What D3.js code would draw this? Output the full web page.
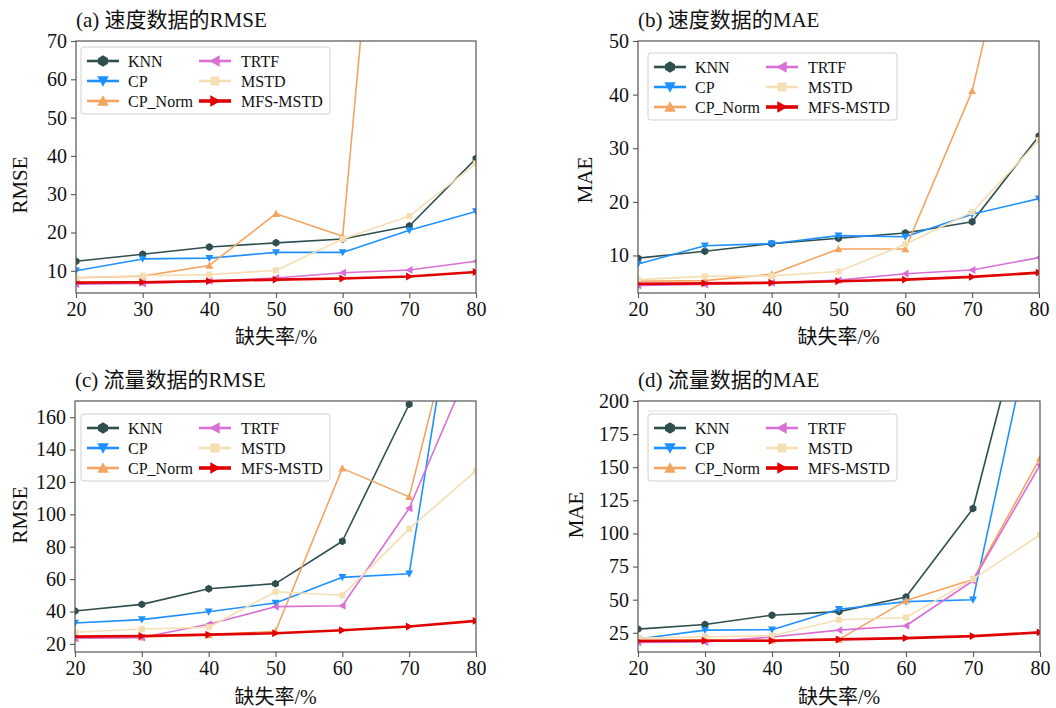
<!DOCTYPE html>
<html><head><meta charset="utf-8">
<script src="https://cdn.jsdelivr.net/npm/d3@7"></script>
<style>
body{margin:0;background:#fff}
text{font-family:"Liberation Serif","Times New Roman","Noto Sans CJK SC",serif;fill:#111}
</style>
</head><body>
<svg id="chart" width="1056" height="708"></svg>
<script>
// ---------- data ----------
const missingRates = [20, 30, 40, 50, 60, 70, 80];
const methods = ["KNN", "CP", "CP_Norm", "TRTF", "MSTD", "MFS-MSTD"];
// rows follow `methods` order
const speedRMSE = [
  [12.5, 14.3, 16.2, 17.3, 18.3, 21.7, 39.3],
  [10.0, 13.1, 13.3, 14.8, 14.8, 20.6, 25.5],
  [8.2, 8.6, 11.4, 24.9, 19.0, 210, 260],
  [6.5, 6.7, 7.3, 8.1, 9.5, 10.2, 12.5],
  [8.2, 8.7, 9.0, 10.1, 18.3, 24.3, 38.0],
  [6.9, 7.0, 7.3, 7.7, 8.0, 8.5, 9.7]
];
const speedMAE = [
  [9.5, 10.8, 12.2, 13.2, 14.2, 16.3, 32.3],
  [8.4, 11.8, 12.2, 13.7, 13.5, 17.7, 20.6],
  [5.2, 5.3, 6.5, 11.2, 11.2, 40.7, 94],
  [4.4, 4.6, 4.9, 5.4, 6.6, 7.3, 9.6],
  [5.5, 6.1, 6.2, 7.0, 12.1, 18.1, 31.5],
  [4.7, 4.8, 4.9, 5.2, 5.5, 6.0, 6.8]
];
const flowRMSE = [
  [40.3, 44.4, 54.1, 57.2, 83.4, 168, 300],
  [32.9, 35.0, 39.9, 45.3, 61.1, 63.3, 323],
  [23.5, 24.1, 25.5, 27.8, 128.4, 110.8, 275],
  [23.5, 23.9, 32.1, 43.0, 43.6, 103.8, 200],
  [27.2, 29.2, 30.3, 52.2, 50.0, 91.0, 127.0],
  [24.5, 24.9, 25.7, 26.6, 28.4, 30.7, 34.2]
];
const flowMAE = [
  [27.8, 31.3, 38.3, 41.0, 52.0, 118.8, 315],
  [20.3, 27.0, 27.3, 42.8, 48.5, 50.0, 285],
  [19.3, 19.8, 19.3, 20.0, 49.3, 65.3, 156.8],
  [17.8, 18.0, 21.8, 27.0, 30.3, 64.3, 151.8],
  [21.0, 21.8, 22.8, 34.8, 36.5, 65.5, 99.0],
  [18.8, 19.0, 19.0, 20.0, 21.0, 22.5, 25.3]
];
const panelTitles = ["(a) 速度数据的RMSE", "(b) 速度数据的MAE", "(c) 流量数据的RMSE", "(d) 流量数据的MAE"];
const yLabels = ["RMSE", "MAE", "RMSE", "MAE"];
const xLabel = "缺失率/%";
const yDomains = [[4.2, 70], [3, 50], [15, 170], [10.5, 200]];
const yTickValues = [
  [10, 20, 30, 40, 50, 60, 70],
  [10, 20, 30, 40, 50],
  [20, 40, 60, 80, 100, 120, 140, 160],
  [25, 50, 75, 100, 125, 150, 175, 200]
];

// ---------- styles / layout ----------
const colors = ["#2f4f4f", "#1e90ff", "#f4a460", "#da70d6", "#f5deb3", "#e00000"];
const markerTypes = ["hex", "down", "up", "left", "square", "right"];
const lineWidths = [1.6, 1.6, 1.6, 1.6, 1.6, 2.6];
const layout = [
  {x0: 76, x1: 476, y0: 41, y1: 293, ylx: 20, yly: 185, xly: 337, legX: 81, legY: 47},
  {x0: 638, x1: 1039, y0: 41, y1: 293, ylx: 585, yly: 180, xly: 337, legX: 648, legY: 53},
  {x0: 75, x1: 476, y0: 401, y1: 652, ylx: 20, yly: 515, xly: 697, legX: 81, legY: 414},
  {x0: 638, x1: 1040, y0: 401, y1: 652, ylx: 576, yly: 515, xly: 697, legX: 648, legY: 414}
];
const datasets = [speedRMSE, speedMAE, flowRMSE, flowMAE];

function markerPath(t, r) {
  let pts;
  if (t === "hex") {
    pts = d3.range(6).map(k => {
      const a = (-90 + 60 * k) * Math.PI / 180;
      return [r * 1.1 * Math.cos(a), r * 1.1 * Math.sin(a)];
    });
  } else if (t === "up") pts = [[0, -r * 1.1], [-r * 1.1, r * 0.9], [r * 1.1, r * 0.9]];
  else if (t === "down") pts = [[0, r * 1.1], [-r * 1.1, -r * 0.9], [r * 1.1, -r * 0.9]];
  else if (t === "left") pts = [[-r * 1.1, 0], [r * 0.9, -r * 1.1], [r * 0.9, r * 1.1]];
  else if (t === "right") pts = [[r * 1.1, 0], [-r * 0.9, -r * 1.1], [-r * 0.9, r * 1.1]];
  else pts = [[-r * 0.85, -r * 0.85], [r * 0.85, -r * 0.85], [r * 0.85, r * 0.85], [-r * 0.85, r * 0.85]];
  return "M" + pts.map(p => p.join(",")).join("L") + "Z";
}

const svg = d3.select("#chart");
const spine = "#555";

layout.forEach((L, pi) => {
  const data = datasets[pi];
  const x = d3.scaleLinear().domain([20, 80]).range([L.x0, L.x1]);
  const y = d3.scaleLinear().domain(yDomains[pi]).range([L.y1, L.y0]);
  const g = svg.append("g");

  const clipId = "clip" + pi;
  svg.append("clipPath").attr("id", clipId).append("rect")
    .attr("x", L.x0).attr("y", L.y0).attr("width", L.x1 - L.x0).attr("height", L.y1 - L.y0);

  // series
  const plot = g.append("g").attr("clip-path", `url(#${clipId})`);
  const line = d3.line().x((d, i) => x(missingRates[i])).y(d => y(d));
  data.forEach((vals, si) => {
    plot.append("path").datum(vals).attr("d", line)
      .attr("fill", "none").attr("stroke", colors[si]).attr("stroke-width", lineWidths[si])
      .attr("stroke-linejoin", "round");
    plot.selectAll(null).data(vals).enter().append("path")
      .attr("transform", (d, i) => `translate(${x(missingRates[i])},${y(d)})`)
      .attr("d", markerPath(markerTypes[si], 3.6))
      .attr("fill", colors[si]);
  });

  // axes
  const xa = g.append("g").attr("transform", `translate(0,${L.y1})`)
    .call(d3.axisBottom(x).tickValues(missingRates).tickSize(5).tickPadding(4).tickFormat(d3.format("d")));
  const ya = g.append("g").attr("transform", `translate(${L.x0},0)`)
    .call(d3.axisLeft(y).tickValues(yTickValues[pi]).tickSize(5).tickPadding(4).tickFormat(d3.format("d")));
  [xa, ya].forEach(a => {
    a.select(".domain").remove();
    a.selectAll("line").attr("stroke", spine).attr("stroke-width", 1.1);
    a.selectAll("text").style("font-size", "20px").attr("fill", "#111");
  });
  g.append("rect").attr("x", L.x0).attr("y", L.y0).attr("width", L.x1 - L.x0).attr("height", L.y1 - L.y0)
    .attr("fill", "none").attr("stroke", spine).attr("stroke-width", 1.2);

  // title and labels
  g.append("text").attr("x", L.x0).attr("y", L.y0 - 14).style("font-size", "21px").text(panelTitles[pi]);
  g.append("text").attr("x", (L.x0 + L.x1) / 2).attr("y", L.xly).attr("text-anchor", "middle")
    .attr("dominant-baseline", "central").style("font-size", "20px").text(xLabel);
  g.append("text").attr("transform", `translate(${L.ylx},${L.yly}) rotate(-90)`).attr("text-anchor", "middle")
    .attr("dominant-baseline", "central").style("font-size", "21px").text(yLabels[pi]);

  // faint artifact line in panel (d)
  if (pi === 3) {
    g.append("line").attr("x1", L.legX).attr("x2", L.legX + 242).attr("y1", L.legY - 3).attr("y2", L.legY - 3)
      .attr("stroke", "#e2e2e2").attr("stroke-width", 1);
  }

  // legend
  const leg = g.append("g").attr("transform", `translate(${L.legX},${L.legY})`);
  leg.append("rect").attr("width", 249).attr("height", 67).attr("rx", 3)
    .attr("fill", "#fff").attr("fill-opacity", 0.85).attr("stroke", "#d0d0d0").attr("stroke-width", 1);
  methods.forEach((m, si) => {
    const col = Math.floor(si / 3), row = si % 3;
    const lx = col === 0 ? 6 : 118;
    const ly = 14 + row * 20;
    leg.append("line").attr("x1", lx).attr("x2", lx + 32).attr("y1", ly).attr("y2", ly)
      .attr("stroke", colors[si]).attr("stroke-width", si === 5 ? 3.6 : 2.6);
    leg.append("path").attr("transform", `translate(${lx + 16},${ly})`)
      .attr("d", markerPath(markerTypes[si], 5.2)).attr("fill", colors[si]);
    leg.append("text").attr("x", lx + (col === 0 ? 41 : 42)).attr("y", ly).attr("dominant-baseline", "central")
      .style("font-size", "16px").text(m);
  });
});
</script>
</body></html>
